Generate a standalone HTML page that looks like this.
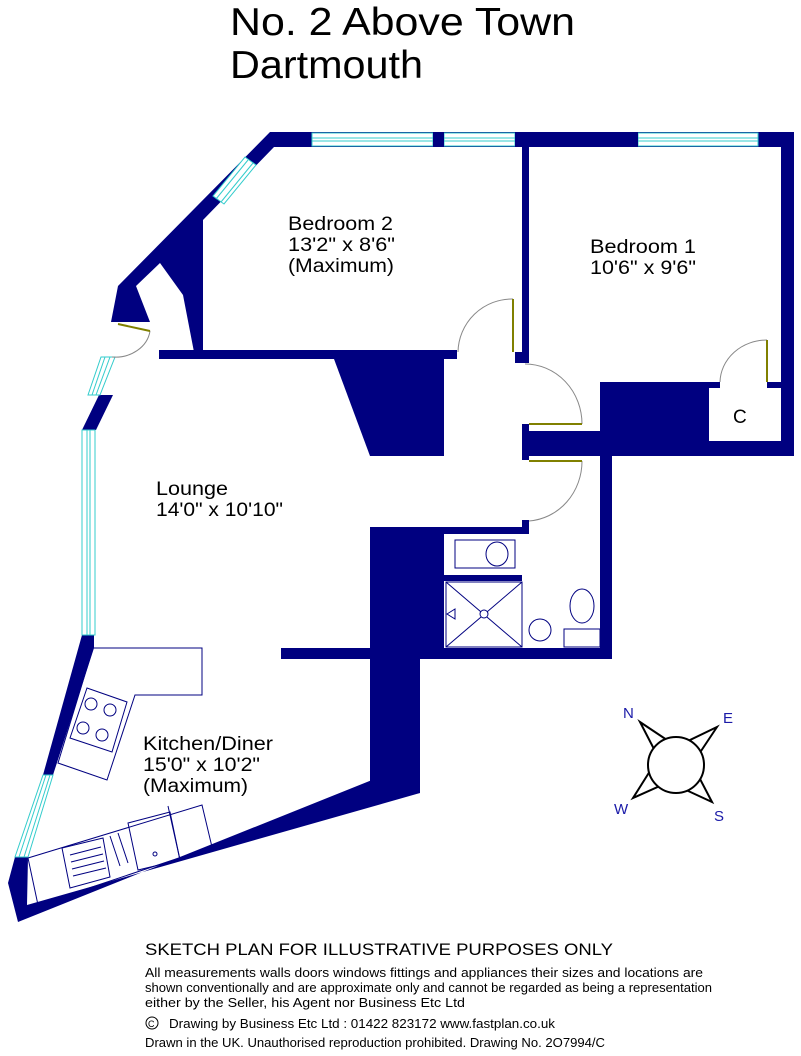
<!DOCTYPE html>
<html><head><meta charset="utf-8"><style>
html,body{margin:0;padding:0;background:#fff;}
svg{display:block;}
text{font-family:"Liberation Sans",Arial,sans-serif;fill:#000;}
</style></head><body>
<svg width="801" height="1056" viewBox="0 0 801 1056" xmlns="http://www.w3.org/2000/svg">
<rect width="801" height="1056" fill="#fff"/>
<text x="230" y="35" font-size="39" textLength="345" lengthAdjust="spacingAndGlyphs">No. 2 Above Town</text>
<text x="230" y="78" font-size="39" textLength="193" lengthAdjust="spacingAndGlyphs">Dartmouth</text>

<g fill="#000080" stroke="none">
<rect x="270" y="132" width="524" height="15"/>
<polygon points="270,132 312,132 312,147 274,147 203,220 203,352 194,352 183,295 160,263 136,286 150,322 111,322 118,286"/>
<rect x="159" y="350" width="298" height="9"/>
<polygon points="334,359 444,359 444,456 370,456"/>
<rect x="522" y="147" width="7" height="216"/>
<rect x="515" y="352" width="14" height="11"/>
<rect x="781" y="132" width="13" height="324"/>
<rect x="758" y="132" width="36" height="15"/>
<rect x="522" y="424" width="7" height="36"/>
<rect x="522" y="431" width="90" height="25"/>
<rect x="600" y="382" width="109" height="74"/>
<rect x="709" y="441" width="85" height="15"/>
<rect x="709" y="382" width="11" height="6"/>
<rect x="767" y="382" width="14" height="6"/>
<rect x="600" y="456" width="12" height="203"/>
<rect x="444" y="527" width="85" height="7"/>
<rect x="522" y="520" width="7" height="14"/>
<rect x="444" y="575" width="78" height="6"/>
<rect x="370" y="527" width="74" height="121"/>
<rect x="281" y="648" width="331" height="11"/>
<polygon points="370,640 420,640 420,793 370,798"/>
<polygon points="99,395 113,395 96,430 82,430"/>
<rect x="82" y="430" width="13" height="205"/>
<polygon points="82,635 94,635 94,648 53,775 43,775"/>
<polygon points="15,857 28,857 27,905 420,793 420,640 372,640 372,780 18,922 8,883"/>
</g>

<g stroke="#33cccc" stroke-width="1" fill="#fff">
<rect x="312" y="133" width="121" height="13"/>
<line x1="312" y1="138" x2="433" y2="138"/><line x1="312" y1="141" x2="433" y2="141"/>
<rect x="444" y="133" width="71" height="13"/>
<line x1="444" y1="138" x2="515" y2="138"/><line x1="444" y1="141" x2="515" y2="141"/>
<rect x="638" y="133" width="120" height="13"/>
<line x1="638" y1="138" x2="758" y2="138"/><line x1="638" y1="141" x2="758" y2="141"/>
<polygon points="245,157 256,165 224,204 213,196"/>
<line x1="248" y1="160" x2="216" y2="199"/><line x1="253" y1="163" x2="221" y2="202"/>
<polygon points="101,357 115,357 100,395 88,395" />
<line x1="105" y1="357" x2="92" y2="395"/><line x1="110" y1="357" x2="96" y2="395"/>
<rect x="82" y="430" width="13" height="205"/>
<line x1="87" y1="430" x2="87" y2="635"/><line x1="90" y1="430" x2="90" y2="635"/>
<polygon points="43,775 53,775 28,857 15,857"/>
<line x1="46" y1="775" x2="19" y2="857"/><line x1="50" y1="775" x2="24" y2="857"/>
</g>
<rect x="433" y="132" width="11" height="15" fill="#000080"/>
<rect x="515" y="132" width="123" height="15" fill="#000080"/>

<g fill="none" stroke="#888" stroke-width="1">
<path d="M513,299 A54,54 0 0 0 458,352"/>
<path d="M582,424 A57,60 0 0 0 525,364"/>
<path d="M582,461 A57,60 0 0 1 529,521"/>
<path d="M767,340 A47,43 0 0 0 720,382"/>
<path d="M150,331 A35,30 0 0 1 112,357"/>
</g>
<g stroke="#808000" stroke-width="2">
<line x1="513" y1="299" x2="513" y2="352"/>
<line x1="529" y1="424" x2="582" y2="424"/>
<line x1="529" y1="461" x2="582" y2="461"/>
<line x1="767" y1="340" x2="767" y2="382"/>
<line x1="118" y1="324" x2="150" y2="331"/>
</g>

<g fill="none" stroke="#000080" stroke-width="1">
<rect x="455" y="540" width="60" height="28"/>
<ellipse cx="497" cy="554" rx="11" ry="12"/>
<rect x="446" y="582" width="76" height="65"/>
<line x1="446" y1="582" x2="522" y2="647"/><line x1="522" y1="582" x2="446" y2="647"/>
<circle cx="484" cy="614" r="4" fill="#fff"/>
<polygon points="447,614 455,609 455,619"/>
<circle cx="540" cy="630" r="11"/>
<ellipse cx="582" cy="606" rx="12" ry="17"/>
<rect x="564" y="629" width="36" height="18"/>
<polygon points="93,648 202,648 202,695 135,695 107,780 58,763" />
<polygon points="87,688 127,702 112,752 70,738"/>
<circle cx="91" cy="704" r="6"/><circle cx="110" cy="710" r="6"/>
<circle cx="83" cy="728" r="6"/><circle cx="102" cy="735" r="6"/>
<polygon points="28,858 202,805 212,847 38,905"/>
<polygon points="62,848 103,838 110,877 70,888"/>
<line x1="70" y1="855" x2="101" y2="847"/><line x1="71" y1="862" x2="103" y2="854"/>
<line x1="72" y1="869" x2="104" y2="861"/><line x1="73" y1="876" x2="106" y2="868"/>
<polygon points="128,823 170,812 180,860 138,870"/>
<circle cx="155" cy="854" r="2"/>
<line x1="168" y1="806" x2="180" y2="860"/>
<line x1="110" y1="836" x2="120" y2="866"/><line x1="118" y1="833" x2="128" y2="863"/>
</g>

<g fill="#fff" stroke="#000" stroke-width="2">
<polygon points="640,722 667,740 655,751"/>
<polygon points="717,727 699,754 688,741"/>
<polygon points="633,798 650,771 662,785"/>
<polygon points="712,802 699,777 686,790"/>
<circle cx="676" cy="765" r="28"/>
</g>
<g font-size="15">
<text x="623" y="718" style="fill:#1a1aa8">N</text>
<text x="723" y="723" style="fill:#1a1aa8">E</text>
<text x="614" y="814" style="fill:#1a1aa8">W</text>
<text x="714" y="821" style="fill:#1a1aa8">S</text>
</g>

<g font-size="19" lengthAdjust="spacingAndGlyphs">
<text x="288" y="230" textLength="105" lengthAdjust="spacingAndGlyphs">Bedroom 2</text>
<text x="288" y="251" textLength="107" lengthAdjust="spacingAndGlyphs">13'2" x 8'6"</text>
<text x="288" y="272" textLength="106" lengthAdjust="spacingAndGlyphs">(Maximum)</text>
<text x="590" y="253" textLength="106" lengthAdjust="spacingAndGlyphs">Bedroom 1</text>
<text x="590" y="274" textLength="106" lengthAdjust="spacingAndGlyphs">10'6" x 9'6"</text>
<text x="733" y="423">C</text>
<text x="156" y="495" textLength="72" lengthAdjust="spacingAndGlyphs">Lounge</text>
<text x="156" y="516" textLength="127" lengthAdjust="spacingAndGlyphs">14'0" x 10'10"</text>
<text x="143" y="750" textLength="130" lengthAdjust="spacingAndGlyphs">Kitchen/Diner</text>
<text x="143" y="771" textLength="117" lengthAdjust="spacingAndGlyphs">15'0" x 10'2"</text>
<text x="143" y="792" textLength="105" lengthAdjust="spacingAndGlyphs">(Maximum)</text>
</g>

<text x="145" y="955" font-size="17" textLength="468" lengthAdjust="spacingAndGlyphs">SKETCH PLAN FOR ILLUSTRATIVE PURPOSES ONLY</text>
<g font-size="13">
<text x="145" y="977" textLength="558" lengthAdjust="spacingAndGlyphs">All measurements walls doors windows fittings and appliances their sizes and locations are</text>
<text x="145" y="992" textLength="567" lengthAdjust="spacingAndGlyphs">shown conventionally and are approximate only and cannot be regarded as being a representation</text>
<text x="145" y="1007" textLength="320" lengthAdjust="spacingAndGlyphs">either by the Seller, his Agent nor Business Etc Ltd</text>
<circle cx="152" cy="1023" r="6" fill="none" stroke="#000" stroke-width="1"/>
<text x="148" y="1027" font-size="9">C</text>
<text x="169" y="1028" textLength="386" lengthAdjust="spacingAndGlyphs">Drawing by Business Etc Ltd : 01422 823172  www.fastplan.co.uk</text>
<text x="145" y="1047" textLength="460" lengthAdjust="spacingAndGlyphs">Drawn in the UK. Unauthorised reproduction prohibited. Drawing No. 2O7994/C</text>
</g>
</svg>
</body></html>
